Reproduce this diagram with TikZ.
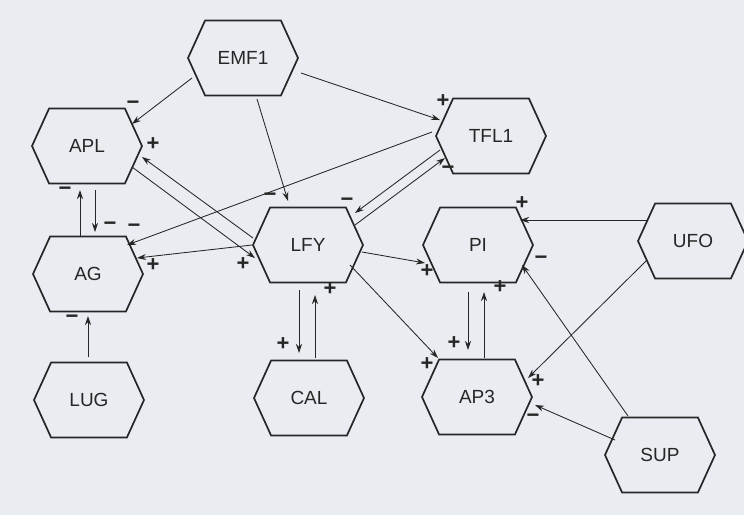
\documentclass[tikz,border=0pt]{standalone}
\usepackage{fontspec}
\setmainfont{Liberation Sans}
\usetikzlibrary{shapes.symbols,calc,arrows.meta}
\definecolor{paper}{RGB}{233,237,241}
\definecolor{ink}{RGB}{38,38,38}
\begin{document}
\begin{tikzpicture}[x=1pt,y=-1pt,
  gene/.style={signal, signal to=east and west, signal pointer angle=131,
    draw=ink, line width=1.7pt, minimum width=110pt, minimum height=75pt,
    inner sep=0pt, outer sep=0pt, font=\fontsize{19}{21}\selectfont, text=ink},
  arr/.style={draw=ink, line width=0.85pt, -{Stealth[length=9pt,width=6pt]}},
  sgn/.style={font=\fontsize{22}{24}\selectfont\bfseries, text=ink,
    inner sep=0pt, text height=0.54em, text depth=0pt}]
\fill[paper] (0,0) rectangle (744,515);
\useasboundingbox (0,0) rectangle (744,515);

% genes
\node[gene] (EMF1) at (243,58)  {EMF1};
\node[gene] (APL)  at (87,146)  {APL};
\node[gene] (AG)   at (88,274)  {AG};
\node[gene] (LUG)  at (89,400)  {LUG};
\node[gene] (LFY)  at (308,245) {LFY};
\node[gene] (CAL)  at (309,398) {CAL};
\node[gene] (TFL1) at (491,136) {TFL1};
\node[gene] (PI)   at (478,245) {PI};
\node[gene] (UFO)  at (693,241) {UFO};
\node[gene] (AP3)  at (477,397) {AP3};
\node[gene] (SUP)  at (660,455) {SUP};

% connectors
\draw[arr] ($(EMF1)+(-51,20)$) -- ($(APL)+(45,-22)$);
\draw[arr] ($(EMF1)+(14,41)$) -- ($(LFY)+(-20,-44)$);
\draw[arr] ($(EMF1)+(58,15)$) -- ($(TFL1)+(-51,-16)$);
\draw[arr] ($(TFL1)+(-59,-4)$) -- ($(AG)+(39,-29)$);
\draw[arr] ($(TFL1)+(-51,14)$) -- ($(LFY)+(47,-32)$);
\draw[arr] ($(LFY)+(47,-20)$) -- ($(TFL1)+(-46,22)$);
\draw[arr] ($(APL)+(8,44)$) -- ($(AG)+(7,-42)$);
\draw[arr] ($(AG)+(-8,-38)$) -- ($(APL)+(-7,44)$);
\draw[arr] ($(APL)+(45,21)$) -- ($(LFY)+(-53,13)$);
\draw[arr] ($(LFY)+(-55,-7)$) -- ($(APL)+(55,11)$);
\draw[arr] ($(LFY)+(-56,0)$) -- ($(AG)+(49,-16)$);
\draw[arr] ($(LFY)+(54,7)$) -- ($(PI)+(-53,18)$);
\draw[arr] ($(LFY)+(42,20)$) -- ($(AP3)+(-39,-39)$);
\draw[arr] ($(LFY)+(-9,45)$) -- ($(CAL)+(-10,-45)$);
\draw[arr] ($(CAL)+(6,-40)$) -- ($(LFY)+(7,50)$);
\draw[arr] ($(PI)+(-10,47)$) -- ($(AP3)+(-9,-47)$);
\draw[arr] ($(AP3)+(7,-39)$) -- ($(PI)+(6,47)$);
\draw[arr] ($(UFO)+(-45,-21)$) -- ($(PI)+(42,-25)$);
\draw[arr] ($(UFO)+(-46,19)$) -- ($(AP3)+(51,-19)$);
\draw[arr] ($(SUP)+(-32,-39)$) -- ($(PI)+(44,20)$);
\draw[arr] ($(SUP)+(-45,-15)$) -- ($(AP3)+(58,8)$);
\draw[arr] ($(LUG)+(-1,-43)$) -- ($(AG)+(0,42)$);

% signs
\node[sgn] (s1)  at (133,107) {−};
\node[sgn] (s2)  at (153,148) {+};
\node[sgn] (s3)  at (243,268) {+};
\node[sgn] (s4)  at (65,193)  {−};
\node[sgn] (s5)  at (110,228) {−};
\node[sgn] (s6)  at (134,230) {−};
\node[sgn] (s7)  at (153,269) {+};
\node[sgn] (s8)  at (270,199) {−};
\node[sgn] (s9)  at (347,204) {−};
\node[sgn] (s10) at (443,105) {+};
\node[sgn] (s11) at (448,172) {−};
\node[sgn] (s12) at (427,275) {+};
\node[sgn] (s13) at (427,368) {+};
\node[sgn] (s14) at (283,348) {+};
\node[sgn] (s15) at (330,293) {+};
\node[sgn] (s16) at (454,347) {+};
\node[sgn] (s17) at (500,291) {+};
\node[sgn] (s18) at (522,207) {+};
\node[sgn] (s19) at (541,262) {−};
\node[sgn] (s20) at (538,385) {+};
\node[sgn] (s21) at (533,420) {−};
\node[sgn] (s22) at (72,321)  {−};
\end{tikzpicture}
\end{document}
